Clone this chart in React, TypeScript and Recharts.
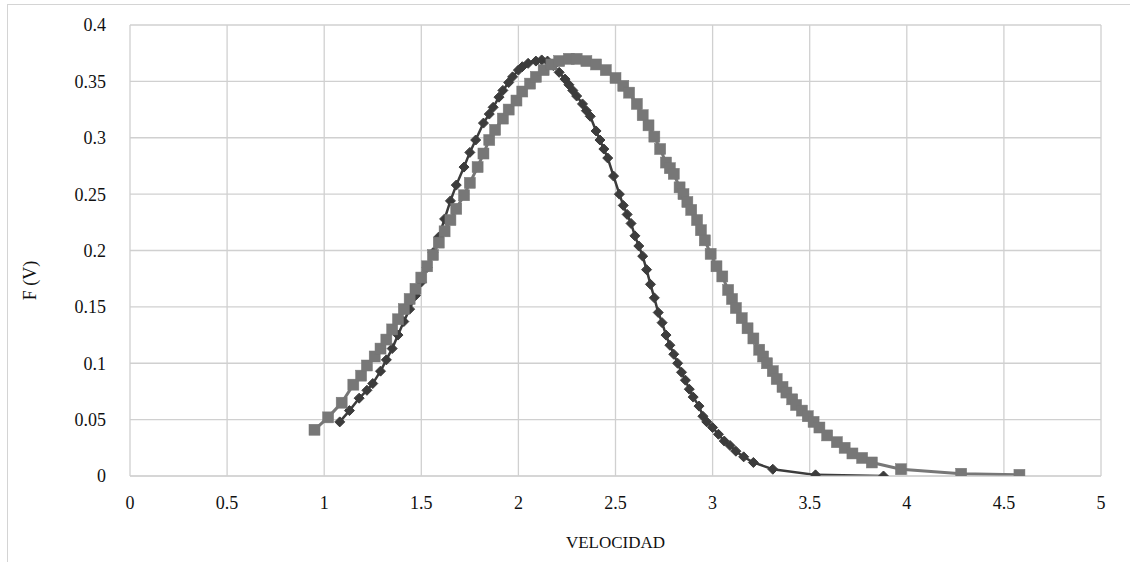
import React from 'react';
import { LineChart, Line, XAxis, YAxis, CartesianGrid, Label } from 'recharts';

const darkV = [1.08, 1.13, 1.18, 1.22, 1.25, 1.29, 1.32, 1.35, 1.38, 1.41, 1.44, 1.47, 1.5, 1.53, 1.56, 1.59, 1.62, 1.65, 1.68, 1.72, 1.75, 1.78, 1.82, 1.85, 1.87, 1.9, 1.92, 1.95, 1.97, 2.0, 2.02, 2.05, 2.09, 2.12, 2.15, 2.18, 2.21, 2.24, 2.26, 2.28, 2.3, 2.33, 2.35, 2.37, 2.4, 2.42, 2.44, 2.46, 2.49, 2.52, 2.54, 2.56, 2.58, 2.6, 2.62, 2.64, 2.66, 2.68, 2.7, 2.72, 2.74, 2.76, 2.78, 2.8, 2.82, 2.84, 2.86, 2.88, 2.9, 2.93, 2.95, 2.97, 3.0, 3.03, 3.06, 3.09, 3.12, 3.16, 3.21, 3.31, 3.53, 3.88];
const darkF = [0.048, 0.058, 0.069, 0.076, 0.082, 0.093, 0.103, 0.113, 0.125, 0.137, 0.148, 0.16, 0.172, 0.185, 0.198, 0.212, 0.228, 0.244, 0.258, 0.274, 0.287, 0.298, 0.313, 0.321, 0.327, 0.336, 0.342, 0.349, 0.354, 0.36, 0.363, 0.366, 0.368, 0.369, 0.368, 0.364, 0.358, 0.352, 0.347, 0.342, 0.337, 0.33, 0.324, 0.319, 0.306, 0.298, 0.29, 0.282, 0.266, 0.25, 0.24, 0.232, 0.224, 0.213, 0.204, 0.195, 0.183, 0.17, 0.158, 0.145, 0.136, 0.125, 0.116, 0.108, 0.1, 0.092, 0.085, 0.077, 0.07, 0.062, 0.053, 0.048, 0.043, 0.037, 0.031, 0.027, 0.022, 0.017, 0.012, 0.006, 0.001, 0.0];

const grayV = [0.95, 1.02, 1.09, 1.15, 1.19, 1.22, 1.26, 1.29, 1.32, 1.35, 1.38, 1.41, 1.44, 1.47, 1.5, 1.53, 1.56, 1.59, 1.62, 1.65, 1.68, 1.72, 1.75, 1.79, 1.82, 1.85, 1.88, 1.92, 1.95, 1.99, 2.02, 2.06, 2.09, 2.13, 2.17, 2.21, 2.26, 2.3, 2.35, 2.4, 2.45, 2.5, 2.54, 2.57, 2.61, 2.64, 2.67, 2.7, 2.73, 2.76, 2.78, 2.8, 2.83, 2.85, 2.87, 2.89, 2.92, 2.94, 2.96, 2.99, 3.02, 3.05, 3.08, 3.1, 3.12, 3.15, 3.18, 3.21, 3.24, 3.26, 3.28, 3.31, 3.33, 3.36, 3.38, 3.41, 3.43, 3.46, 3.49, 3.52, 3.55, 3.59, 3.64, 3.68, 3.72, 3.77, 3.82, 3.97, 4.28, 4.58];
const grayF = [0.041, 0.052, 0.065, 0.081, 0.089, 0.098, 0.106, 0.113, 0.121, 0.13, 0.139, 0.148, 0.157, 0.166, 0.176, 0.186, 0.196, 0.207, 0.217, 0.227, 0.237, 0.249, 0.26, 0.274, 0.286, 0.298, 0.307, 0.317, 0.325, 0.333, 0.341, 0.348, 0.354, 0.36, 0.365, 0.368, 0.37, 0.37, 0.368, 0.365, 0.36, 0.353, 0.346, 0.34, 0.33, 0.32, 0.311, 0.301, 0.29, 0.278, 0.273, 0.268, 0.256, 0.25, 0.243, 0.236, 0.227, 0.218, 0.209, 0.197, 0.186, 0.177, 0.165, 0.157, 0.149, 0.14, 0.131, 0.122, 0.112, 0.106, 0.1, 0.093, 0.086, 0.079, 0.074, 0.068, 0.063, 0.058, 0.053, 0.048, 0.043, 0.036, 0.03, 0.025, 0.02, 0.016, 0.012, 0.006, 0.002, 0.001];

const xTicks = [0, 0.5, 1, 1.5, 2, 2.5, 3, 3.5, 4, 4.5, 5];
const yTicks = [0, 0.05, 0.1, 0.15, 0.2, 0.25, 0.3, 0.35, 0.4];

const darkData = darkV.map((v, i) => ({ v, f: darkF[i] }));
const grayData = grayV.map((v, i) => ({ v, f: grayF[i] }));

const FONT = '"Liberation Serif", "Times New Roman", serif';
const DARK = '#3c3c3c';
const GRAY = '#777777';

const diamond = (props: any) => {
  const { cx, cy, index } = props;
  if (cx == null || cy == null) return <g key={`d${index}`} />;
  const r = 5;
  return (
    <path
      key={`d${index}`}
      d={`M${cx},${cy - r} L${cx + r},${cy} L${cx},${cy + r} L${cx - r},${cy} Z`}
      fill={DARK}
      stroke={DARK}
      strokeWidth={1}
    />
  );
};

const square = (props: any) => {
  const { cx, cy, index } = props;
  if (cx == null || cy == null) return <g key={`s${index}`} />;
  const h = 5.5;
  return <rect key={`s${index}`} x={cx - h} y={cy - h} width={h * 2} height={h * 2} fill={GRAY} stroke={GRAY} strokeWidth={0.5} />;
};

export default function App() {
  return (
    <div style={{ position: 'fixed', left: 0, top: 0, width: 1130, height: 562, overflow: 'hidden', background: '#fff' }}>
      <div style={{ position: 'absolute', left: 7, top: 4, width: 1200, height: 700, borderLeft: '1px solid #d4d4d4', borderTop: '1px solid #d4d4d4' }} />
      <div style={{ position: 'absolute', left: 0, top: 0 }}>
        <LineChart width={1130} height={562} margin={{ top: 25, right: 29, bottom: 56, left: 70 }}>
          <CartesianGrid stroke="#d0d0d0" strokeWidth={1.3} />
          <XAxis
            dataKey="v"
            type="number"
            domain={[0, 5]}
            ticks={xTicks}
            allowDataOverflow
            axisLine={{ stroke: '#d0d0d0' }}
            tickLine={false}
            height={30}
            tickMargin={14}
            tick={{ fontFamily: FONT, fontSize: 18, fill: '#111' }}
          >
            <Label value="VELOCIDAD" position="insideBottom" offset={-42} style={{ fontFamily: FONT, fontSize: 17, fill: '#111' }} />
          </XAxis>
          <YAxis
            dataKey="f"
            type="number"
            domain={[0, 0.4]}
            ticks={yTicks}
            allowDataOverflow
            axisLine={false}
            tickLine={false}
            width={60}
            tickMargin={18}
            tick={{ fontFamily: FONT, fontSize: 18, fill: '#111' }}
          >
            <Label value="F (V)" angle={-90} position="insideLeft" offset={-40} dy={30} style={{ fontFamily: FONT, fontSize: 18, fill: '#111', textAnchor: 'middle' }} />
          </YAxis>
          <Line data={darkData} dataKey="f" stroke={DARK} strokeWidth={2.5} dot={diamond} activeDot={false} isAnimationActive={false} />
          <Line data={grayData} dataKey="f" stroke={GRAY} strokeWidth={3} dot={square} activeDot={false} isAnimationActive={false} />
        </LineChart>
      </div>
    </div>
  );
}
